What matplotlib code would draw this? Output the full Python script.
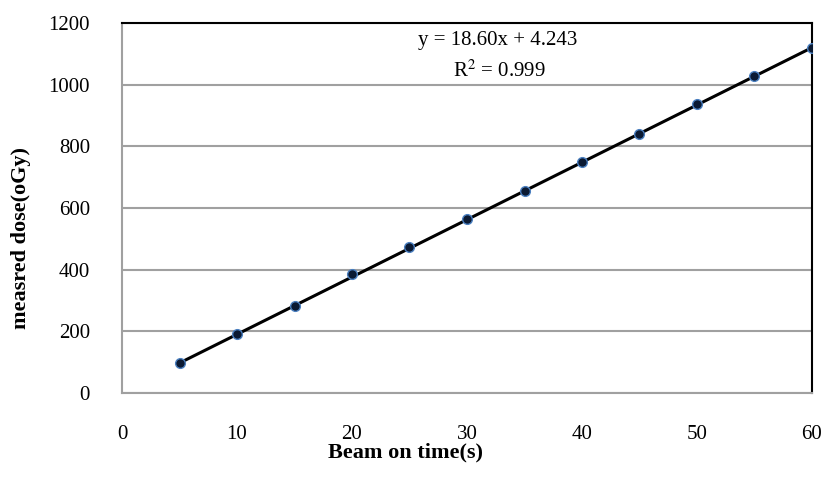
import numpy as np
import matplotlib as mpl
import matplotlib.pyplot as plt

mpl.rcParams['font.family'] = ['Liberation Serif', 'DejaVu Serif']
mpl.rcParams['font.size'] = 15

# beam-on time (s) and measured dose
beam_time = [5, 10, 15, 20, 25, 30, 35, 40, 45, 50, 55, 60]
dose = [97, 190, 282, 386, 472, 563, 656, 748, 840, 936, 1028, 1120]

# linear trendline as printed on the chart
slope, intercept = 18.60, 4.243
r2 = 0.999

xticks = [0, 10, 20, 30, 40, 50, 60]
yticks = [0, 200, 400, 600, 800, 1000, 1200]

fig = plt.figure(figsize=(8.25, 4.9), dpi=100)
ax = fig.add_axes([122/825, 1-393/490, (812-122)/825, (393-23)/490])

xx = np.array([beam_time[0], beam_time[-1]])
ax.plot(xx, slope*xx + intercept, color='black', lw=2.2, zorder=3)
ax.plot(beam_time, dose, 'o', ms=7, mfc='#0b1a33', mec='#4a7fc0', mew=1.0, zorder=4)

ax.set_xlim(0, 60)
ax.set_ylim(0, 1200)
ax.set_xticks(xticks)
ax.set_yticks(yticks)
ax.tick_params(length=0, labelsize=15)
ax.tick_params(axis='x', pad=23)
ax.tick_params(axis='y', pad=23)
ax.yaxis.grid(True, color='#a0a0a0', lw=1.5)
ax.set_axisbelow(True)

for s in ['left', 'bottom']:
    ax.spines[s].set_color('#a0a0a0')
    ax.spines[s].set_linewidth(1.5)
for s in ['top', 'right']:
    ax.spines[s].set_color('black')
    ax.spines[s].set_linewidth(1.5)

# equation + R^2 labels
eq = 'y = %.2fx + %.3f' % (slope, intercept)
fig.text(498/825, 1-41/490, eq, fontsize=15, ha='center', va='center')
fig.text(499/825, 1-71/490, 'R$^2$ = %.3f' % r2, fontsize=15, ha='center', va='center',
         math_fontfamily='stix')

fig.text(405/825, 1-452/490, 'Beam on time(s)', fontsize=16, fontweight='bold',
         ha='center', va='center')
fig.text(21/825, 1-238/490, 'measred dose(oGy)', fontsize=16, fontweight='bold',
         ha='center', va='center', rotation=90)

fig.savefig('out.png', dpi=100)
